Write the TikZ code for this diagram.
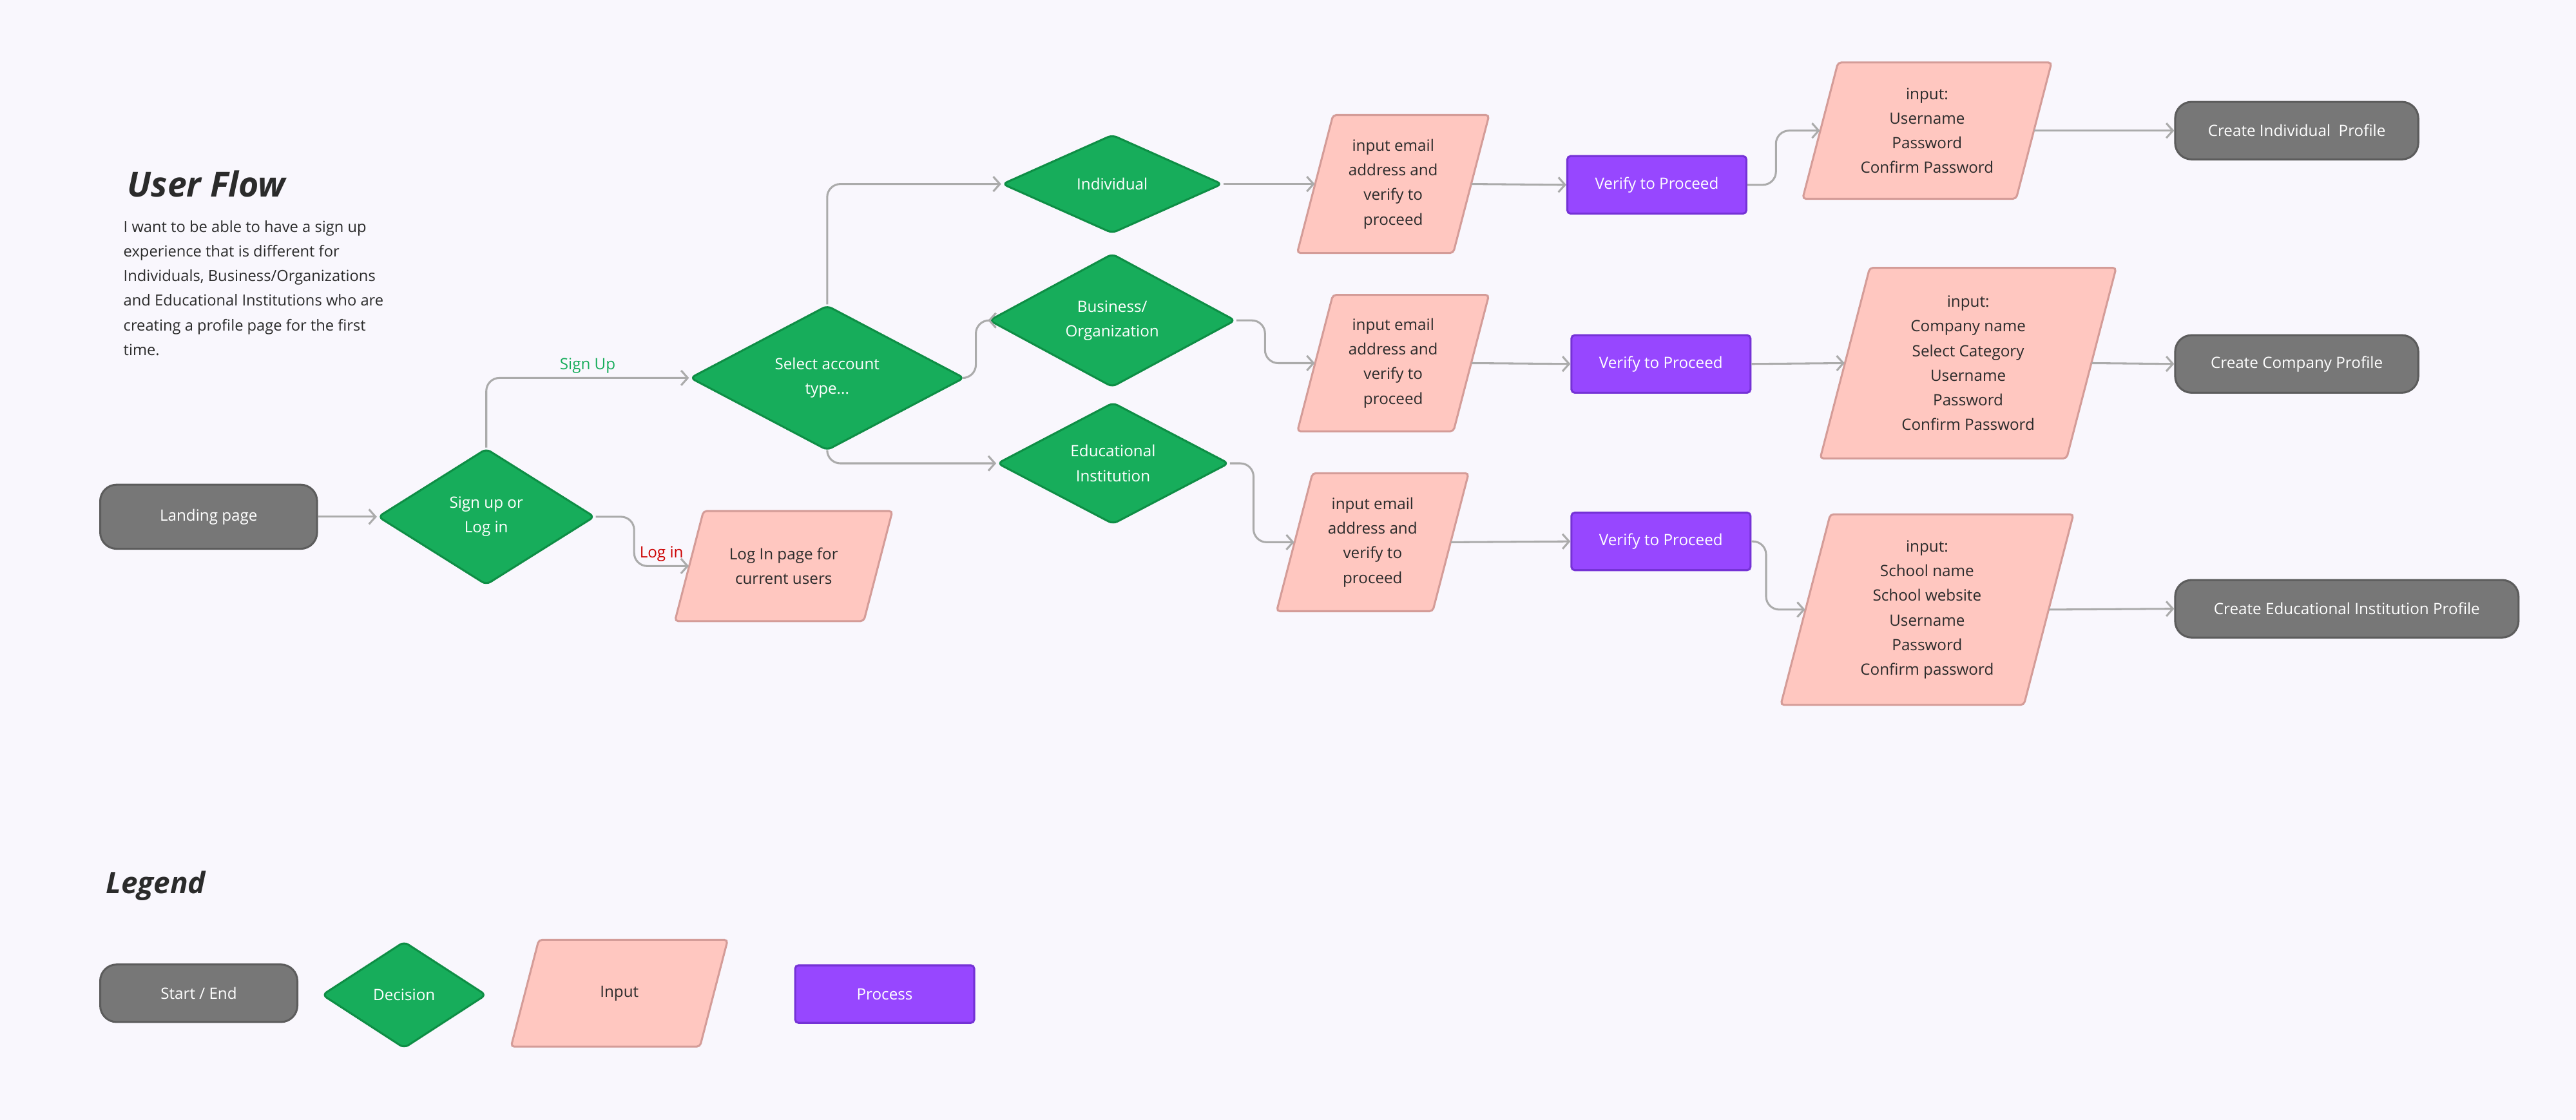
\documentclass[tikz,border=0pt]{standalone}
\usepackage{fontspec}
\setmainfont{Open Sans}
\usetikzlibrary{shapes.geometric,arrows.meta,calc}
\definecolor{bg}{HTML}{F9F7FD}
\definecolor{gfill}{HTML}{17AD5B}\definecolor{gdraw}{HTML}{0E8E45}
\definecolor{pfill}{HTML}{FFC7C0}\definecolor{pdraw}{HTML}{D49C98}
\definecolor{vfill}{HTML}{9747FF}\definecolor{vdraw}{HTML}{7532D6}
\definecolor{sfill}{HTML}{777777}\definecolor{sdraw}{HTML}{5C5C5C}
\definecolor{edge}{HTML}{ABABAB}
\definecolor{txt}{HTML}{2B2B2B}
\newcommand\paranode[6]{%
  \draw[pdraw,fill=pfill,line width=1.2pt,rounded corners=2pt]
    ({#2-#4/2-0.13*#5},{#3+#5/2}) -- ({#2+#4/2-0.13*#5},{#3+#5/2}) --
    ({#2+#4/2+0.13*#5},{#3-#5/2}) -- ({#2-#4/2+0.13*#5},{#3-#5/2}) -- cycle;
  \node[paratext,minimum width=#4,minimum height=#5] (#1) at (#2,#3) {#6};}
\tikzset{
  base/.style={font=\fontsize{9.5}{15}\selectfont,align=center,inner sep=0pt},
  term/.style={base,fill=sfill,draw=sdraw,line width=1.2pt,rounded corners=10pt,text=white},
  dec/.style={base,diamond,fill=gfill,draw=gdraw,line width=1.2pt,rounded corners=3pt,text=white},
  proc/.style={base,fill=vfill,draw=vdraw,line width=1.2pt,rounded corners=2pt,text=white,minimum width=109pt,minimum height=35pt},
  paratext/.style={base,text=txt},
  conn/.style={draw=edge,line width=1.2pt,rounded corners=8pt,-{Straight Barb[length=4pt,width=9pt]}},
}
\begin{document}
\begin{tikzpicture}[x=1pt,y=-1pt]
\fill[bg] (0,0) rectangle (1568,681.6);
\useasboundingbox (0,0) rectangle (1568,681.6);
% title and text
\node[anchor=west,font=\fontsize{21}{24}\itshape\bfseries\selectfont,text=txt] (title) at (74,112) {User Flow};
\node[anchor=north west,align=left,inner sep=0pt,text=txt,font=\fontsize{9.3}{15}\selectfont] (desc) at (75,134)
 {I want to be able to have a sign up\\experience that is different for\\Individuals, Business/Organizations\\and Educational Institutions who are\\creating a profile page for the first\\time.};
% nodes
\node[term,minimum width=132pt,minimum height=39pt] (land) at (127,314.5) {Landing page};
\node[dec,minimum width=132pt,minimum height=83pt] (sign) at (296,314.5) {Sign up or\\Log in};
\node[dec,minimum width=167pt,minimum height=86pt] (sel) at (503.5,230) {Select account\\type...};
\node[dec,minimum width=134pt,minimum height=60pt] (ind) at (677,112) {Individual};
\node[dec,minimum width=150pt,minimum height=74pt] (bus) at (677,195) {Business/\\Organization};
\node[dec,minimum width=141pt,minimum height=72pt] (edu) at (677.5,282) {Educational\\Institution};
\paranode{log}{477}{344.5}{115}{67}{Log In page for\\current users}
\paranode{em1}{848}{112}{95}{84}{input email\\address and\\verify to\\proceed}
\paranode{em2}{848}{221}{95}{83}{input email\\address and\\verify to\\proceed}
\paranode{em3}{835.5}{330}{95}{84}{input email\\address and\\verify to\\proceed}
\node[proc] (v1) at (1008.5,112.5) {Verify to Proceed};
\node[proc] (v2) at (1011,221.5) {Verify to Proceed};
\node[proc] (v3) at (1011,329.5) {Verify to Proceed};
\paranode{in1}{1173}{79.5}{130}{83}{input:\\Username\\Password\\Confirm Password}
\paranode{in2}{1198}{221}{150}{116}{input:\\Company name\\Select Category\\Username\\Password\\Confirm Password}
\paranode{in3}{1173}{371}{148}{116}{input:\\School name\\School website\\Username\\Password\\Confirm password}
\node[term,minimum width=148pt,minimum height=35pt] (c1) at (1398,79.5) {Create Individual\ \ Profile};
\node[term,minimum width=148pt,minimum height=35pt] (c2) at (1398,221.5) {Create Company Profile};
\node[term,minimum width=209pt,minimum height=35pt] (c3) at (1428.5,370.5) {Create Educational Institution Profile};
% connectors
\draw[conn] (land.east) -- (sign.west);
\draw[conn] (sign.north) |- (sel.west) node[pos=0.75,above=2pt,text=gfill,base] (lsu) {Sign Up};
\draw[conn] (sign.east) -- (386,314.5) |- (log.west) node[pos=0.75,above=2pt,text=red!80!black,base] (lli) {Log in};
\draw[conn] (sel.north) |- (ind.west);
\draw[conn] (sel.east) -- (594,230) |- (bus.west);
\draw[conn] (sel.south) |- (edu.west);
\draw[conn] (ind.east) -- (em1.west);
\draw[conn] (bus.east) -- (770,195) |- (em2.west);
\draw[conn] (edu.east) -- (763,282) |- (em3.west);
\draw[conn] (em1.east) -- (v1.west);
\draw[conn] (em2.east) -- (v2.west);
\draw[conn] (em3.east) -- (v3.west);
\draw[conn] (v1.east) -- (1081,112.5) |- (in1.west);
\draw[conn] (v2.east) -- (in2.west);
\draw[conn] (v3.east) -- (1075,329.5) |- (in3.west);
\draw[conn] (in1.east) -- (c1.west);
\draw[conn] (in2.east) -- (c2.west);
\draw[conn] (in3.east) -- (c3.west);
% legend
\node[anchor=west,font=\fontsize{18}{20}\itshape\bfseries\selectfont,text=txt] (leg) at (61,539) {Legend};
\node[term,minimum width=120pt,minimum height=35pt] (lse) at (121,604.5) {Start / End};
\node[dec,minimum width=100pt,minimum height=65pt] (ldec) at (246,605.5) {Decision};
\paranode{lin}{377}{604.5}{115}{65}{Input}
\node[proc] (lpr) at (538.5,605) {Process};
\end{tikzpicture}
\end{document}
